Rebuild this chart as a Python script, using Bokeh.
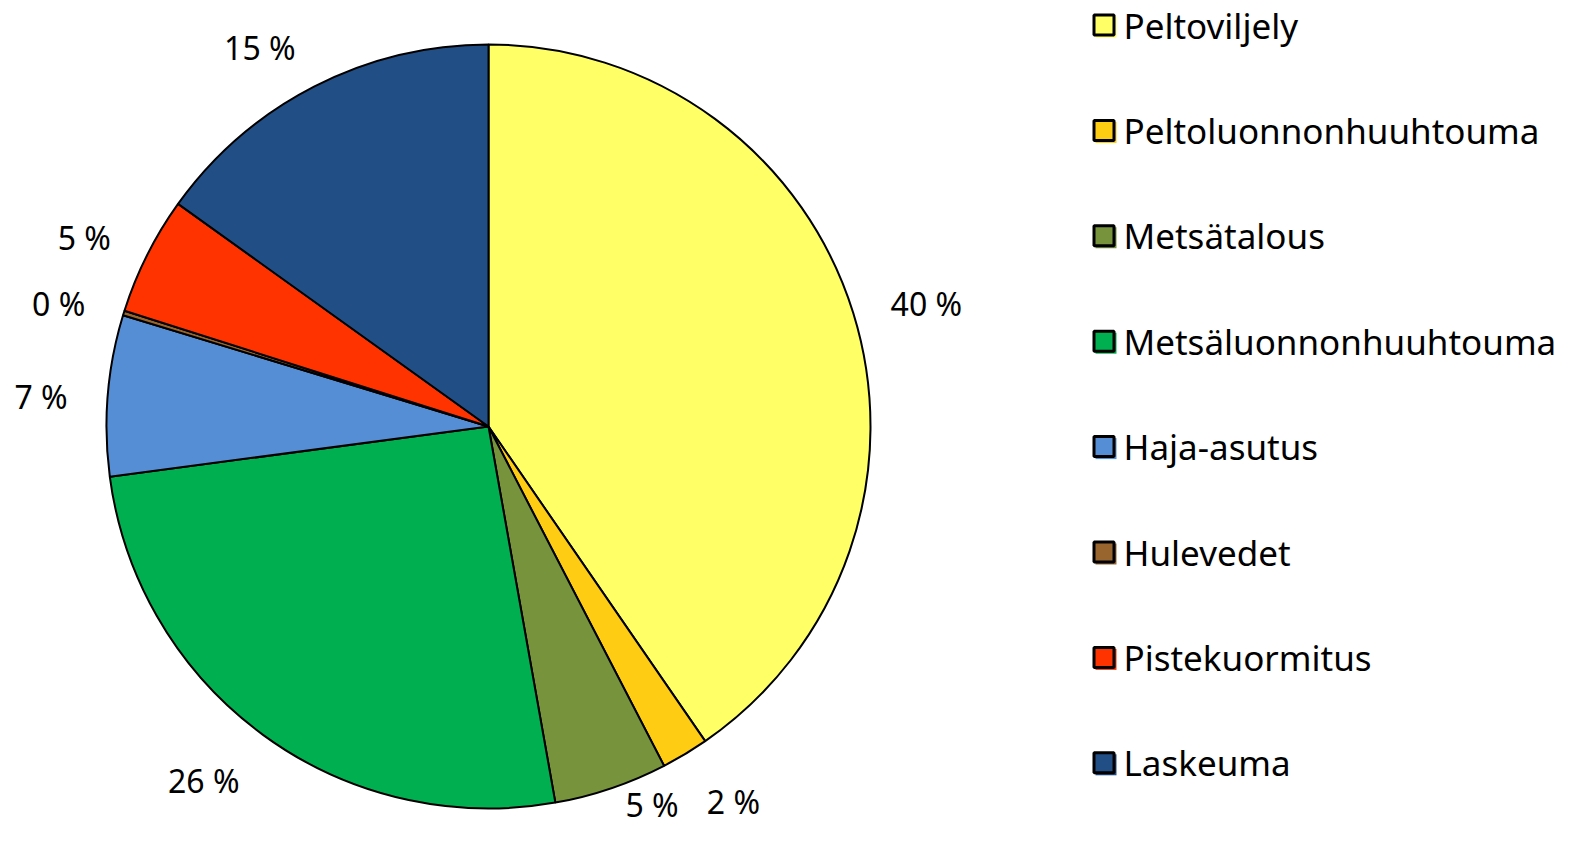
import math
from bokeh.plotting import figure
from bokeh.models import ColumnDataSource, Range1d
from bokeh.core.properties import value
from bokeh.embed import file_html
from bokeh.resources import INLINE

categories = ["Peltoviljely", "Peltoluonnonhuuhtouma", "Metsätalous",
              "Metsäluonnonhuuhtouma", "Haja-asutus", "Hulevedet",
              "Pistekuormitus", "Laskeuma"]
shares = [40.4, 2.0, 4.8, 25.7, 6.8, 0.2, 5.0, 15.1]
colors = ["#FFFF66", "#FFCC14", "#77933C", "#00B050", "#558ED5", "#99652F",
          "#FF3300", "#224E86"]

W, H = 1571, 829
CX, CY = 488, 426
R = 382
p = figure(width=W, height=H, output_backend="svg", toolbar_location=None,
           x_range=Range1d(-CX, W - CX), y_range=Range1d(CY - H, CY),
           min_border=0)
p.axis.visible = False
p.grid.visible = False
p.outline_line_color = None
p.background_fill_color = "white"

total = sum(shares)
starts, ends, mids = [], [], []
cum = 0.0
for s in shares:
    a0 = math.pi / 2 - cum / total * 2 * math.pi
    cum += s
    a1 = math.pi / 2 - cum / total * 2 * math.pi
    starts.append(a0)
    ends.append(a1)
    mids.append((a0 + a1) / 2)

src = ColumnDataSource(dict(start=starts, end=ends, color=colors, cat=categories))
p.wedge(x=0, y=0, radius=R, start_angle="start", end_angle="end", direction="clock",
        fill_color="color", line_color="black", line_width=2, source=src)

labels = [f"{round(s):d} %" for s in shares]
FS = 32
lx, ly = [], []
for lab, m in zip(labels, mids):
    w = len(lab) * 0.5 * FS + 0.3 * FS
    h = 24
    ux, uy = math.cos(m), math.sin(m)
    x = 420 * ux + math.copysign(w / 2, ux)
    y = 420 * uy + uy * h / 2 - 5
    y = max(y, CY - H + 25)
    lx.append(x)
    ly.append(y)
p.text(x=lx, y=ly, text=labels, text_align="center", text_baseline="middle",
       text_font=value("Noto Sans"), text_font_size=f"{FS}px", text_color="black")

# legend
n = len(categories)
bx = [615.5] * n
by = [401.5 - 105.4 * i for i in range(n)]
p.rect(x=[b + 2 for b in bx], y=[b - 2 for b in by], width=21, height=21,
       fill_color=colors, line_color=None)
p.rect(x=bx, y=by, width=20, height=20, fill_color=colors, line_color="black",
       line_width=3)
p.text(x=[635] * n, y=by, text=categories, text_align="left", text_baseline="middle",
       text_font=value("Noto Sans"), text_font_size="35px", text_color="black")

open("out.html", "w").write(file_html(p, INLINE))
